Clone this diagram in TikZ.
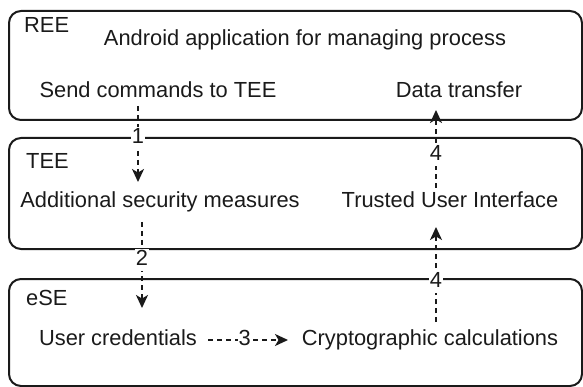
\documentclass[tikz,border=0pt]{standalone}
\usepackage{fontspec}
\setmainfont{Liberation Sans}
\usetikzlibrary{arrows.meta,calc}
\definecolor{ink}{HTML}{1A1A1A}
\begin{document}
\begin{tikzpicture}[x=1pt,y=-1pt,
  layer/.style={draw=ink, line width=2pt, rounded corners=12pt, anchor=north west, inner sep=0pt},
  txt/.style={font=\fontsize{21.85}{26}\selectfont, text=ink, inner sep=0pt, text height=15.7pt, text depth=4.6pt},
  flow/.style={draw=ink, line width=1.6pt, dash pattern=on 5pt off 4pt, -{Stealth[length=13pt,width=12pt,inset=3.5pt]}},
  lbl/.style={txt, fill=white, inner sep=1pt}]
\useasboundingbox (0,0) rectangle (583,387);
% layers
\node[layer, minimum width=573pt, minimum height=109pt] (reebox) at (8,10) {};
\node[layer, minimum width=573pt, minimum height=111pt] (teebox) at (8,137) {};
\node[layer, minimum width=573pt, minimum height=107pt] (esebox) at (8,278) {};
% texts
\node[txt, anchor=west] (reet) at (24,27) {REE};
\node[txt] (android) at (305,40) {Android application for managing process};
\node[txt] (send) at (158,92) {Send commands to TEE};
\node[txt] (data) at (459,92) {Data transfer};
\node[txt, anchor=west] (teet) at (26,163) {TEE};
\node[txt] (add) at (160,202) {Additional security measures};
\node[txt] (trusted) at (450,202) {Trusted User Interface};
\node[txt, anchor=west] (eset) at (26,300) {eSE};
\node[txt] (user) at (118,340) {User credentials};
\node[txt] (crypto) at (430,340) {Cryptographic calculations};
% connectors
\draw[flow] ($(send.center)+(-20,14)$) -- node[lbl, pos=0.42] {1} ($(add.center)+(-22,-20)$);
\draw[flow] ($(trusted.center)+(-14,-14)$) -- node[lbl, pos=0.42] {4} ($(data.center)+(-23,18)$);
\draw[flow] ($(add.center)+(-18,20)$) -- node[lbl, pos=0.44] {2} ($(user.center)+(24,-32)$);
\draw[flow] ($(crypto.center)+(6,-18)$) -- node[lbl, pos=0.42] {4} ($(trusted.center)+(-14,25)$);
\draw[flow] ($(user.center)+(90,0)$) -- node[lbl, pos=0.46] {3} ($(crypto.center)+(-142,0)$);
\end{tikzpicture}
\end{document}
